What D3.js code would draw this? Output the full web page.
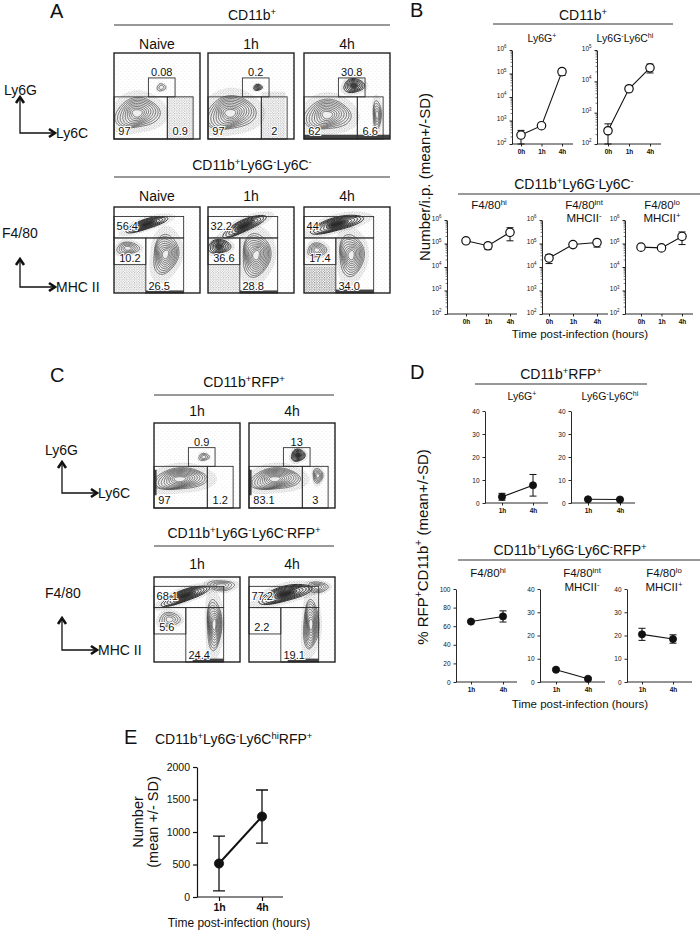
<!DOCTYPE html>
<html lang="en">
<head>
<meta charset="UTF-8">
<title>Myeloid cells after infection</title>
<script src="https://d3js.org/d3.v7.min.js"></script>
<style>
  body { margin: 0; background: #fff; }
  svg text { font-family: Arial, "Liberation Sans", Helvetica, sans-serif; fill: #111; }
</style>
</head>
<body>
<svg id="fig" width="700" height="930"></svg>
<script>
// ---------- flow gate percentages (panels A and C) ----------
const flowCols = ["Naive", "1h", "4h"];
const ly6gPos = ["0.08", "0.2", "30.8"];
const ly6cLo = ["97", "97", "62"];
const ly6cHi = ["0.9", "2", "6.6"];
const f480Hi = ["56.4", "32.2", "44"];
const f480Int = ["10.2", "36.6", "17.4"];
const f480Lo = ["26.5", "28.8", "34.0"];

const rfpCols = ["1h", "4h"];
const rfpLy6gPos = ["0.9", "13"];
const rfpLy6cLo = ["97", "83.1"];
const rfpLy6cHi = ["1.2", "3"];
const rfpF480Hi = ["68.1", "77.2"];
const rfpF480Int = ["5.6", "2.2"];
const rfpF480Lo = ["24.4", "19.1"];

// ---------- panel B: number per i.p. (mean, SD) ----------
const timesB = ["0h", "1h", "4h"];
const nLy6gMean = [240, 600, 120000];
const nLy6gSd = [140, 90, 38000];
const nLy6chiMean = [265, 5800, 27000];
const nLy6chiSd = [175, 600, 8500];
const nF480hiMean = [130000, 80000, 300000];
const nF480hiSd = [10000, 25000, 170000];
const nF480intMean = [24000, 90000, 110000];
const nF480intSd = [10000, 6000, 40000];
const nF480loMean = [70000, 65000, 200000];
const nF480loSd = [5000, 9000, 110000];

// ---------- panel D: % RFP+ of CD11b+ (mean, SD) ----------
const timesD = ["1h", "4h"];
const pLy6gMean = [2.7, 7.7];
const pLy6gSd = [1.5, 4.7];
const pLy6chiMean = [1.6, 1.5];
const pLy6chiSd = [0.3, 0.3];
const pF480hiMean = [65, 70.5];
const pF480hiSd = [1, 6];
const pF480intMean = [5.3, 1.4];
const pF480intSd = [0.4, 0.5];
const pF480loMean = [20.5, 18.5];
const pF480loSd = [2.6, 1.8];

// ---------- panel E: number of Ly6Chi RFP+ cells ----------
const timesE = ["1h", "4h"];
const eMean = [515, 1238];
const eSd = [422, 408];

// ---------- axis ticks ----------
const logTicks6 = [1e2, 1e3, 1e4, 1e5, 1e6];
const logTicks5 = [1e2, 1e3, 1e4, 1e5];
const pctTicks40 = [0, 10, 20, 30, 40];
const pctTicks100 = [0, 20, 40, 60, 80, 100];
const eTicks = [0, 500, 1000, 1500, 2000];

const svg = d3.select("#fig");

// speckle patterns for the flow plots
const defs = svg.append("defs");
const spk = defs.append("pattern").attr("id", "spk").attr("width", 4).attr("height", 4)
  .attr("patternUnits", "userSpaceOnUse");
spk.append("circle").attr("cx", 0.8).attr("cy", 0.8).attr("r", 0.45).attr("fill", "#444");
spk.append("circle").attr("cx", 2.9).attr("cy", 2.6).attr("r", 0.4).attr("fill", "#444");
const spk2 = defs.append("pattern").attr("id", "spk2").attr("width", 2.5).attr("height", 2.5)
  .attr("patternUnits", "userSpaceOnUse");
spk2.append("circle").attr("cx", 0.7).attr("cy", 0.7).attr("r", 0.5).attr("fill", "#333");
spk2.append("circle").attr("cx", 1.9).attr("cy", 1.8).attr("r", 0.4).attr("fill", "#333");

// text with ^{...} superscripts
function rich(t, str, size) {
  const parts = str.split(/(\^\{[^}]*\})/).filter(s => s.length);
  let up = false;
  parts.forEach(p => {
    const m = p.match(/^\^\{([^}]*)\}$/);
    const ts = t.append("tspan");
    if (m) {
      ts.text(m[1]).attr("font-size", size * 0.68).attr("dy", up ? 0 : -size * 0.38);
      up = true;
    } else {
      ts.text(p).attr("dy", up ? size * 0.38 : 0);
      up = false;
    }
  });
  return t;
}

function label(g, str, x, y, size, anchor) {
  const t = g.append("text").attr("x", x).attr("y", y)
    .attr("font-size", size).attr("text-anchor", anchor || "middle");
  return rich(t, str, size);
}

function header(str, cx, y, x1, x2, ly) {
  label(svg, str, cx, y, 14);
  svg.append("line").attr("x1", x1).attr("x2", x2).attr("y1", ly).attr("y2", ly)
    .attr("stroke", "#333").attr("stroke-width", 1);
}

function panelLetter(s, x, y) {
  svg.append("text").attr("x", x).attr("y", y).attr("font-size", 20).text(s);
}

// the bent arrows that name the flow axes
function cornerArrow(x, yTop, yCorner, xRight, yName, xName, ty, tx) {
  svg.append("path").attr("d", `M${x},${yTop + 2} L${x},${yCorner} L${xRight - 2},${yCorner}`)
    .attr("fill", "none").attr("stroke", "#111").attr("stroke-width", 1.3);
  svg.append("path").attr("d", `M${x - 4},${yTop + 6} L${x},${yTop} L${x + 4},${yTop + 6}`)
    .attr("fill", "none").attr("stroke", "#111").attr("stroke-width", 2.6);
  svg.append("path").attr("d", `M${xRight - 6},${yCorner - 4} L${xRight},${yCorner} L${xRight - 6},${yCorner + 4}`)
    .attr("fill", "none").attr("stroke", "#111").attr("stroke-width", 2.6);
  label(svg, yName, tx, ty, 14, "start");
  label(svg, xName, xRight + 1, yCorner + 5, 14, "start");
}

// ---------- flow plot drawing ----------
function blobPath(cx, cy, rx, ry, ang, s, seed) {
  const a = ang * Math.PI / 180;
  const pts = d3.range(28).map(i => {
    const t = i / 28 * 2 * Math.PI;
    const w = 1 + 0.07 * Math.sin(3 * t + seed) + 0.05 * Math.cos(2 * t + seed * 1.7);
    const px = Math.cos(t) * rx * s * w, py = Math.sin(t) * ry * s * w;
    return [cx + px * Math.cos(a) - py * Math.sin(a), cy + px * Math.sin(a) + py * Math.cos(a)];
  });
  return d3.line().curve(d3.curveCardinalClosed)(pts);
}

const gatesLy6 = [[0.40, 0.29, 0.71, 0.51], [0.0, 0.51, 0.62, 1.0], [0.62, 0.51, 0.92, 1.0]];
const labelsLy6 = [[0.555, 0.265, "middle"], [0.05, 0.95, "start"], [0.77, 0.95, "middle"]];
const gatesF480 = [[0.0, 0.11, 0.81, 0.36], [0.0, 0.36, 0.37, 0.67], [0.37, 0.36, 0.81, 1.0]];
const labelsF480 = [[0.03, 0.265, "start"], [0.06, 0.64, "start"], [0.40, 0.965, "start"]];

let clipId = 0;
function flowPlot(x, y, w, h, gates, labels, nums, blobs, dense) {
  const g = svg.append("g").attr("transform", `translate(${x},${y})`);
  const sx = d3.scaleLinear().domain([0, 1]).range([0, w]);
  const sy = d3.scaleLinear().domain([0, 1]).range([0, h]);
  const id = "fc" + (clipId++);
  defs.append("clipPath").attr("id", id).append("rect").attr("width", w).attr("height", h);
  const inner = g.append("g").attr("clip-path", `url(#${id})`);
  inner.append("rect").attr("width", w).attr("height", h).attr("fill", "url(#spk)").attr("opacity", 0.22);
  (dense || []).forEach(d => {
    inner.append("rect").attr("x", sx(d[0])).attr("y", sy(d[1]))
      .attr("width", sx(d[2] - d[0])).attr("height", sy(d[3] - d[1]))
      .attr("fill", d[4] ? "#222" : "url(#spk2)").attr("opacity", d[4] ? 0.85 : 0.7);
  });
  blobs.forEach((b, k) => {
    const [cx, cy, rx, ry, ang, n, dark] = b;
    inner.append("path").attr("d", blobPath(sx(cx), sy(cy), sx(rx) * 1.35, sx(ry) * 1.45, ang, 1, k))
      .attr("fill", "url(#spk2)").attr("opacity", 0.6);
    d3.range(n).forEach(i => {
      const s = 1 - i * 0.86 / n;
      inner.append("path").attr("d", blobPath(sx(cx), sy(cy), sx(rx), sx(ry), ang, s, k + i * 0.3))
        .attr("fill", i === n - 1 ? (dark ? "#111" : "#eee") : (dark && i > n / 2 ? "#222" : "none"))
        .attr("fill-opacity", dark && i > n / 2 ? 0.55 : 1)
        .attr("stroke", "#333").attr("stroke-width", dark ? 1 : 0.6);
    });
  });
  gates.forEach(q => {
    g.append("rect").attr("x", sx(q[0])).attr("y", sy(q[1]))
      .attr("width", sx(q[2] - q[0])).attr("height", sy(q[3] - q[1]))
      .attr("fill", "none").attr("stroke", "#333").attr("stroke-width", 0.9);
  });
  labels.forEach((l, i) => {
    g.append("text").attr("x", sx(l[0])).attr("y", sy(l[1])).attr("text-anchor", l[2])
      .attr("font-size", 11).attr("stroke", "#fff").attr("stroke-width", 2)
      .attr("paint-order", "stroke").text(nums[i]);
  });
  g.append("rect").attr("width", w).attr("height", h).attr("fill", "none")
    .attr("stroke", "#222").attr("stroke-width", 1.4);
}

// ---------- Prism-style small line plots ----------
function linePlot(c) {
  const g = svg.append("g");
  const x = d3.scalePoint().domain(c.cats).range([c.xa, c.xb]);
  const y = (c.log ? d3.scaleLog() : d3.scaleLinear()).domain(c.domain).range([c.y1, c.y0]);
  const fs = c.fs || 6.5;
  const ya = g.append("g").attr("transform", `translate(${c.x0},0)`)
    .call(d3.axisLeft(y).tickValues(c.ticks).tickSize(c.tick || 2.5).tickSizeOuter(0)
      .tickFormat(c.log ? (() => "") : d3.format("d")));
  ya.select(".domain").attr("stroke", "#111").attr("stroke-width", c.aw || 0.9);
  ya.selectAll(".tick line").attr("stroke", "#111").attr("stroke-width", c.aw || 0.9);
  ya.selectAll(".tick text").attr("font-size", fs).attr("fill", "#222")
    .attr("font-family", "Arial, 'Liberation Sans', sans-serif");
  if (c.log) {
    ya.selectAll(".tick text").each(function (d) {
      rich(d3.select(this).text(""), "10^{" + Math.round(Math.log10(d)) + "}", fs);
    });
    const minor = [];
    c.ticks.slice(0, -1).forEach(t => d3.range(2, 10).forEach(m => minor.push(t * m)));
    g.selectAll(null).data(minor).join("line")
      .attr("x1", c.x0 - 1.4).attr("x2", c.x0).attr("y1", d => y(d)).attr("y2", d => y(d))
      .attr("stroke", "#111").attr("stroke-width", 0.6);
  }
  const xa = g.append("g").attr("transform", `translate(0,${c.y1})`)
    .call(d3.axisBottom(x).tickSize(c.tick || 2.5).tickSizeOuter(0));
  xa.select(".domain").remove();
  xa.selectAll(".tick line").attr("stroke", "#111").attr("stroke-width", c.aw || 0.9);
  xa.selectAll(".tick text").attr("font-size", fs + (c.xfs || 0)).attr("fill", "#222")
    .attr("font-weight", c.bold ? "bold" : "normal")
    .attr("font-family", "Arial, 'Liberation Sans', sans-serif");
  g.append("line").attr("x1", c.x0).attr("x2", c.x1).attr("y1", c.y1).attr("y2", c.y1)
    .attr("stroke", "#111").attr("stroke-width", c.aw || 0.9);

  const pts = c.cats.map((k, i) => ({
    x: x(k), y: y(c.mean[i]),
    lo: y(Math.max(c.mean[i] - c.sd[i], c.domain[0])), hi: y(c.mean[i] + c.sd[i])
  }));
  const cap = c.cap || 3.5;
  pts.forEach(p => {
    g.append("path").attr("d", `M${p.x},${p.lo} V${p.hi} M${p.x - cap},${p.lo} H${p.x + cap} M${p.x - cap},${p.hi} H${p.x + cap}`)
      .attr("fill", "none").attr("stroke", "#111").attr("stroke-width", c.ew || 1);
  });
  g.append("path").datum(pts).attr("d", d3.line().x(d => d.x).y(d => d.y))
    .attr("fill", "none").attr("stroke", "#111").attr("stroke-width", c.lw || 1.1);
  g.selectAll(null).data(pts).join("circle")
    .attr("cx", d => d.x).attr("cy", d => d.y).attr("r", c.r || 4)
    .attr("fill", c.open ? "#fff" : "#111").attr("stroke", "#111").attr("stroke-width", c.open ? 1.2 : 0.8);
  return g;
}

// ================= Panel A =================
panelLetter("A", 50, 18);
header("CD11b^{+}", 252, 20, 114, 390, 25);
const colX = [114, 208, 304];
const blobsATop = [
  [[[0.27, 0.7, 0.25, 0.18, -10, 9], [0.55, 0.4, 0.05, 0.04, 0, 2]], [[0.62, 0.5, 0.92, 1.0]]],
  [[[0.26, 0.7, 0.28, 0.2, -10, 10], [0.58, 0.4, 0.05, 0.035, 0, 4, true]], [[0.62, 0.45, 0.9, 1.0]]],
  [[[0.27, 0.72, 0.26, 0.18, -5, 9], [0.58, 0.38, 0.12, 0.08, 0, 6, true], [0.85, 0.72, 0.05, 0.16, 0, 5]], [[0.0, 0.95, 1.0, 1.0, true]]]
];
const blobsABot = [
  [[[0.38, 0.2, 0.24, 0.06, -18, 7, true], [0.16, 0.48, 0.13, 0.07, 0, 5], [0.6, 0.55, 0.15, 0.22, 10, 9]], [[0.37, 0.97, 0.81, 1.0, true], [0.0, 0.67, 0.37, 1.0]]],
  [[[0.42, 0.22, 0.26, 0.07, -25, 7, true], [0.13, 0.46, 0.13, 0.08, 0, 6, true], [0.56, 0.56, 0.17, 0.24, 5, 10]], [[0.37, 0.97, 0.81, 1.0, true], [0.0, 0.67, 0.37, 1.0]]],
  [[[0.38, 0.2, 0.3, 0.08, -15, 8, true], [0.15, 0.5, 0.11, 0.08, 0, 5], [0.55, 0.56, 0.15, 0.23, 0, 9]], [[0.0, 0.67, 0.37, 1.0], [0.0, 0.7, 0.37, 1.0], [0.37, 0.96, 0.81, 1.0, true]]]
];
flowCols.forEach((c, i) => {
  label(svg, c, colX[i] + 43, 49, 14);
  flowPlot(colX[i], 53, 86, 86, gatesLy6, labelsLy6, [ly6gPos[i], ly6cLo[i], ly6cHi[i]], blobsATop[i][0], blobsATop[i][1]);
});
cornerArrow(20, 97, 133, 55, "Ly6G", "Ly6C", 95, 4);

header("CD11b^{+}Ly6G^{-}Ly6C^{-}", 252, 170, 114, 390, 177);
flowCols.forEach((c, i) => {
  label(svg, c, colX[i] + 43, 201, 14);
  flowPlot(colX[i], 207, 86, 86, gatesF480, labelsF480, [f480Hi[i], f480Int[i], f480Lo[i]], blobsABot[i][0], blobsABot[i][1]);
});
cornerArrow(20, 259, 287, 55, "F4/80", "MHC II", 238, 2);

// ================= Panel B =================
panelLetter("B", 410, 17);
header("CD11b^{+}", 583, 20, 493, 673, 24);
label(svg, "Ly6G^{+}", 542, 42, 10.5);
label(svg, "Ly6G^{-}Ly6C^{hi}", 625, 42, 10.5);
linePlot({ x0: 512, x1: 573, xa: 521, xb: 562, y0: 50, y1: 144, cats: timesB, mean: nLy6gMean, sd: nLy6gSd,
  log: true, domain: [1e2, 1e6], ticks: logTicks6, open: true, r: 4.2, bold: true });
linePlot({ x0: 597, x1: 661, xa: 608, xb: 650, y0: 50, y1: 144, cats: timesB, mean: nLy6chiMean, sd: nLy6chiSd,
  log: true, domain: [1e2, 1e5], ticks: logTicks5, open: true, r: 4.2, bold: true });

header("CD11b^{+}Ly6G^{-}Ly6C^{-}", 574, 189, 458, 700, 194);
label(svg, "F4/80^{hi}", 489, 209, 11.5);
label(svg, "F4/80^{int}", 584, 209, 11.5);
label(svg, "MHCII^{-}", 584, 222, 11.5);
label(svg, "F4/80^{lo}", 662, 209, 11.5);
label(svg, "MHCII^{+}", 662, 222, 11.5);
linePlot({ x0: 447, x1: 517, xa: 466, xb: 510, y0: 220, y1: 314, cats: timesB, mean: nF480hiMean, sd: nF480hiSd,
  log: true, domain: [1e2, 1e6], ticks: logTicks6, open: true, r: 4.2, bold: true });
linePlot({ x0: 542, x1: 608, xa: 549, xb: 597, y0: 220, y1: 314, cats: timesB, mean: nF480intMean, sd: nF480intSd,
  log: true, domain: [1e2, 1e6], ticks: logTicks6, open: true, r: 4.2, bold: true });
linePlot({ x0: 625, x1: 693, xa: 641, xb: 682, y0: 220, y1: 314, cats: timesB, mean: nF480loMean, sd: nF480loSd,
  log: true, domain: [1e2, 1e6], ticks: logTicks6, open: true, r: 4.2, bold: true });
label(svg, "Time post-infection (hours)", 580, 338, 11.5);
label(svg, "Number/i.p. (mean+/-SD)", 0, 0, 15).attr("transform", "translate(430,177) rotate(-90)");

// ================= Panel C =================
panelLetter("C", 50, 382);
header("CD11b^{+}RFP^{+}", 244, 387, 154, 334, 395);
const rfpX = [154, 249];
const blobsCTop = [
  [[[0.3, 0.66, 0.3, 0.13, -5, 10], [0.58, 0.4, 0.06, 0.04, 0, 3]], [[0.0, 0.55, 0.03, 0.85, true]]],
  [[[0.3, 0.66, 0.28, 0.13, -5, 10], [0.57, 0.38, 0.08, 0.07, 0, 7, true], [0.8, 0.62, 0.06, 0.08, 0, 5]], [[0.0, 0.55, 0.03, 0.85, true]]]
];
const blobsCBot = [
  [[[0.36, 0.22, 0.28, 0.07, -20, 8, true], [0.18, 0.5, 0.12, 0.08, 0, 4], [0.7, 0.56, 0.09, 0.28, 0, 9], [0.78, 0.1, 0.15, 0.06, 0, 4]], [[0.45, 0.96, 0.81, 1.0, true]]],
  [[[0.42, 0.2, 0.3, 0.09, -15, 8, true], [0.72, 0.56, 0.09, 0.28, 0, 9], [0.8, 0.12, 0.12, 0.06, 0, 4]], [[0.45, 0.96, 0.81, 1.0, true]]]
];
rfpCols.forEach((c, i) => {
  label(svg, c, rfpX[i] + 43, 416, 14);
  flowPlot(rfpX[i], 423, 86, 85, gatesLy6, labelsLy6, [rfpLy6gPos[i], rfpLy6cLo[i], rfpLy6cHi[i]], blobsCTop[i][0], blobsCTop[i][1]);
});
cornerArrow(62, 462, 493, 97, "Ly6G", "Ly6C", 455, 45);

header("CD11b^{+}Ly6G^{-}Ly6C^{-}RFP^{+}", 244, 538, 154, 334, 546);
rfpCols.forEach((c, i) => {
  label(svg, c, rfpX[i] + 43, 569, 14);
  flowPlot(rfpX[i], 577, 86, 85, gatesF480, labelsF480, [rfpF480Hi[i], rfpF480Int[i], rfpF480Lo[i]], blobsCBot[i][0], blobsCBot[i][1]);
});
cornerArrow(62, 618, 650, 97, "F4/80", "MHC II", 598, 45);

// ================= Panel D =================
panelLetter("D", 410, 379);
header("CD11b^{+}RFP^{+}", 561, 379, 475, 647, 384);
label(svg, "Ly6G^{+}", 522, 400, 10.5);
label(svg, "Ly6G^{-}Ly6C^{hi}", 610, 400, 10.5);
linePlot({ x0: 485, x1: 548, xa: 502, xb: 533, y0: 411, y1: 503, cats: timesD, mean: pLy6gMean, sd: pLy6gSd,
  domain: [0, 40], ticks: pctTicks40, r: 3.6, cap: 3.5, bold: true });
linePlot({ x0: 571, x1: 635, xa: 588, xb: 620, y0: 411, y1: 503, cats: timesD, mean: pLy6chiMean, sd: pLy6chiSd,
  domain: [0, 40], ticks: pctTicks40, r: 3.6, cap: 3.5, bold: true });

header("CD11b^{+}Ly6G^{-}Ly6C^{-}RFP^{+}", 570, 555, 458, 700, 560);
label(svg, "F4/80^{hi}", 488, 577, 11.5);
label(svg, "F4/80^{int}", 582, 577, 11.5);
label(svg, "MHCII^{-}", 582, 591, 11.5);
label(svg, "F4/80^{lo}", 664, 577, 11.5);
label(svg, "MHCII^{+}", 664, 591, 11.5);
linePlot({ x0: 456, x1: 517, xa: 471, xb: 503, y0: 589, y1: 682, cats: timesD, mean: pF480hiMean, sd: pF480hiSd,
  domain: [0, 100], ticks: pctTicks100, r: 3.6, cap: 3.5, bold: true });
linePlot({ x0: 540, x1: 605, xa: 556, xb: 588, y0: 589, y1: 682, cats: timesD, mean: pF480intMean, sd: pF480intSd,
  domain: [0, 40], ticks: pctTicks40, r: 3.6, cap: 3.5, bold: true });
linePlot({ x0: 627, x1: 692, xa: 642, xb: 673, y0: 589, y1: 682, cats: timesD, mean: pF480loMean, sd: pF480loSd,
  domain: [0, 40], ticks: pctTicks40, r: 3.6, cap: 3.5, bold: true });
label(svg, "Time post-infection (hours)", 580, 708, 11.5);
label(svg, "% RFP^{+}CD11b^{+} (mean+/-SD)", 0, 0, 15).attr("transform", "translate(428,547) rotate(-90)");

// ================= Panel E =================
panelLetter("E", 124, 744);
label(svg, "CD11b^{+}Ly6G^{-}Ly6C^{hi}RFP^{+}", 155, 744, 14, "start");
linePlot({ x0: 197, x1: 283, xa: 219, xb: 262, y0: 767, y1: 897, cats: timesE, mean: eMean, sd: eSd,
  domain: [0, 2000], ticks: eTicks, r: 4.6, cap: 6, lw: 2, ew: 1.3, aw: 1.2, tick: 4, fs: 10.5, bold: true });
label(svg, "Time post-infection (hours)", 239, 927, 12);
label(svg, "Number", 0, 0, 14.5).attr("transform", "translate(143,822) rotate(-90)");
label(svg, "(mean +/- SD)", 0, 0, 14.5).attr("transform", "translate(158,822) rotate(-90)");
</script>
</body>
</html>
